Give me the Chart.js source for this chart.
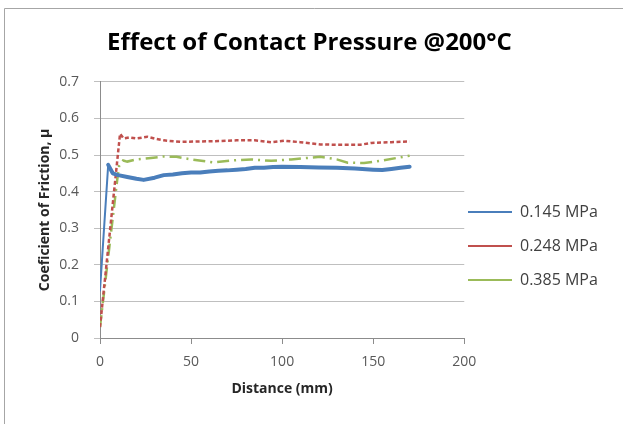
<!DOCTYPE html>
<html>
<head>
<meta charset="utf-8">
<script src="https://cdn.jsdelivr.net/npm/chart.js@4"></script>
<style>
html,body{margin:0;padding:0;background:#fff;}
#wrap{width:623px;height:424px;position:relative;}
</style>
</head>
<body>
<div id="wrap"><canvas id="c"></canvas></div>
<script>
const seriesNames = ["0.145 MPa", "0.248 MPa", "0.385 MPa"];
const xTicks = [0, 50, 100, 150, 200];
const yTicks = [0, 0.1, 0.2, 0.3, 0.4, 0.5, 0.6, 0.7];

const dist145 = [0, 4.5, 7, 10, 15, 20, 24, 30, 35, 40, 45, 50, 55, 60, 65, 70, 75, 80, 85, 90, 95, 100, 110, 120, 130, 140, 150, 155, 160, 165, 170];
const mu145   = [0.13, 0.473, 0.45, 0.445, 0.44, 0.435, 0.432, 0.438, 0.445, 0.447, 0.45, 0.452, 0.452, 0.455, 0.457, 0.458, 0.46, 0.462, 0.465, 0.465, 0.467, 0.468, 0.467, 0.466, 0.465, 0.463, 0.46, 0.459, 0.462, 0.465, 0.468];

const dist248 = [0, 11, 13, 16, 20, 26, 30, 35, 44, 55, 65, 75, 85, 94, 101, 110, 121, 130, 143, 149, 160, 170];
const mu248   = [0.03, 0.558, 0.545, 0.548, 0.545, 0.55, 0.545, 0.54, 0.536, 0.537, 0.538, 0.54, 0.54, 0.535, 0.539, 0.535, 0.529, 0.528, 0.528, 0.533, 0.535, 0.537];

const dist385 = [0, 9.4, 10.5, 12.7, 15, 20, 28, 35, 42, 50, 62, 72, 83, 94, 105, 121, 130, 136, 145, 155, 163, 170];
const mu385   = [0.03, 0.43, 0.47, 0.485, 0.482, 0.488, 0.492, 0.496, 0.495, 0.488, 0.48, 0.485, 0.488, 0.484, 0.488, 0.495, 0.488, 0.479, 0.478, 0.485, 0.492, 0.498];

function pts(xs, ys){ return xs.map((x,i)=>({x:x, y:ys[i]})); }

const FONT = "'Open Sans', sans-serif";
const LEG_PAD = 18;

const borderPlugin = {
  id: 'outerBorder',
  beforeDraw(chart){
    const ctx = chart.ctx;
    ctx.save();
    ctx.fillStyle = '#fff';
    ctx.fillRect(0,0,chart.width,chart.height);
    ctx.strokeStyle = '#a6a6a6';
    ctx.lineWidth = 1;
    ctx.beginPath();
    ctx.moveTo(4.5, chart.height + 2);
    ctx.lineTo(4.5, 8.5);
    ctx.lineTo(chart.width + 2, 8.5);
    ctx.stroke();
    ctx.restore();
  }
};

const legendShift = {
  id: 'legendShift',
  afterLayout(chart){
    const l = chart.legend;
    if(!l) return;
    const w = l.width;
    l.left = 468 - LEG_PAD;
    l.right = l.left + w;
    l.top += 34;
    l.bottom += 34;
  }
};

new Chart(document.getElementById('c'), {
  type: 'line',
  data: {
    datasets: [
      { label: seriesNames[0], data: pts(dist145, mu145), borderColor: '#4a7ebb', backgroundColor: '#4a7ebb', borderWidth: 4, pointRadius: 0, pointStyle: 'line', tension: 0, borderJoinStyle: 'round', borderCapStyle: 'round',
        segment: { borderWidth: c => c.p0DataIndex === 0 ? 2 : undefined } },
      { label: seriesNames[1], data: pts(dist248, mu248), borderColor: '#c0504d', backgroundColor: '#c0504d', borderWidth: 2.5, borderDash: [4, 2.5], pointRadius: 0, pointStyle: 'line', tension: 0 },
      { label: seriesNames[2], data: pts(dist385, mu385), borderColor: '#9bbb59', backgroundColor: '#9bbb59', borderWidth: 2.5, borderDash: [12, 5, 2, 5], pointRadius: 0, pointStyle: 'line', tension: 0 }
    ]
  },
  options: {
    responsive: true,
    maintainAspectRatio: false,
    animation: false,
    layout: { padding: { left: 0, right: 4, top: 0, bottom: 0 } },
    plugins: {
      title: {
        display: true,
        text: 'Effect of Contact Pressure @200°C',
        color: '#000',
        font: { family: FONT, size: 24, weight: 'bold' },
        padding: { top: 29, bottom: 24 }
      },
      legend: {
        display: true,
        position: 'right',
        align: 'center',
        labels: {
          usePointStyle: true,
          pointStyle: 'line',
          pointStyleWidth: 44,
          boxHeight: 14,
          padding: LEG_PAD,
          color: '#404040',
          font: { family: FONT, size: 16 },
          generateLabels(chart){
            const items = Chart.defaults.plugins.legend.labels.generateLabels(chart);
            items.forEach(it => { it.lineWidth = 2; it.pointStyle = 'line'; });
            return items;
          }
        }
      },
      tooltip: { enabled: false }
    },
    scales: {
      x: {
        type: 'linear',
        min: 0, max: 200,
        afterFit(s){ s.height = 86; },
        afterBuildTicks(s){ s.ticks = xTicks.map(v => ({value: v})); },
        ticks: { color: '#595959', font: { family: FONT, size: 14 }, padding: 10, maxRotation: 0 },
        grid: { display: true, drawOnChartArea: false, drawTicks: true, tickLength: 6, color: '#8c8c8c' },
        border: { display: true, color: '#8c8c8c' },
        title: { display: true, text: 'Distance (mm)', color: '#262626', font: { family: FONT, size: 14, weight: 'bold' }, padding: { top: 4, bottom: 27 } }
      },
      y: {
        type: 'linear',
        min: 0, max: 0.7,
        afterFit(s){ s.width = 100; },
        afterBuildTicks(s){ s.ticks = yTicks.map(v => ({value: v})); },
        ticks: { color: '#595959', font: { family: FONT, size: 14 }, padding: 15, callback: v => String(+v.toFixed(1)) },
        grid: { display: true, drawOnChartArea: true, drawTicks: true, tickLength: 6, color: '#bfbfbf' },
        border: { display: true, color: '#8c8c8c' },
        title: { display: true, text: 'Coeficient of Friction, μ', color: '#262626', font: { family: FONT, size: 14, weight: 'bold' }, padding: { top: 37, bottom: 4 } }
      }
    }
  },
  plugins: [borderPlugin, legendShift]
});
</script>
</body>
</html>
